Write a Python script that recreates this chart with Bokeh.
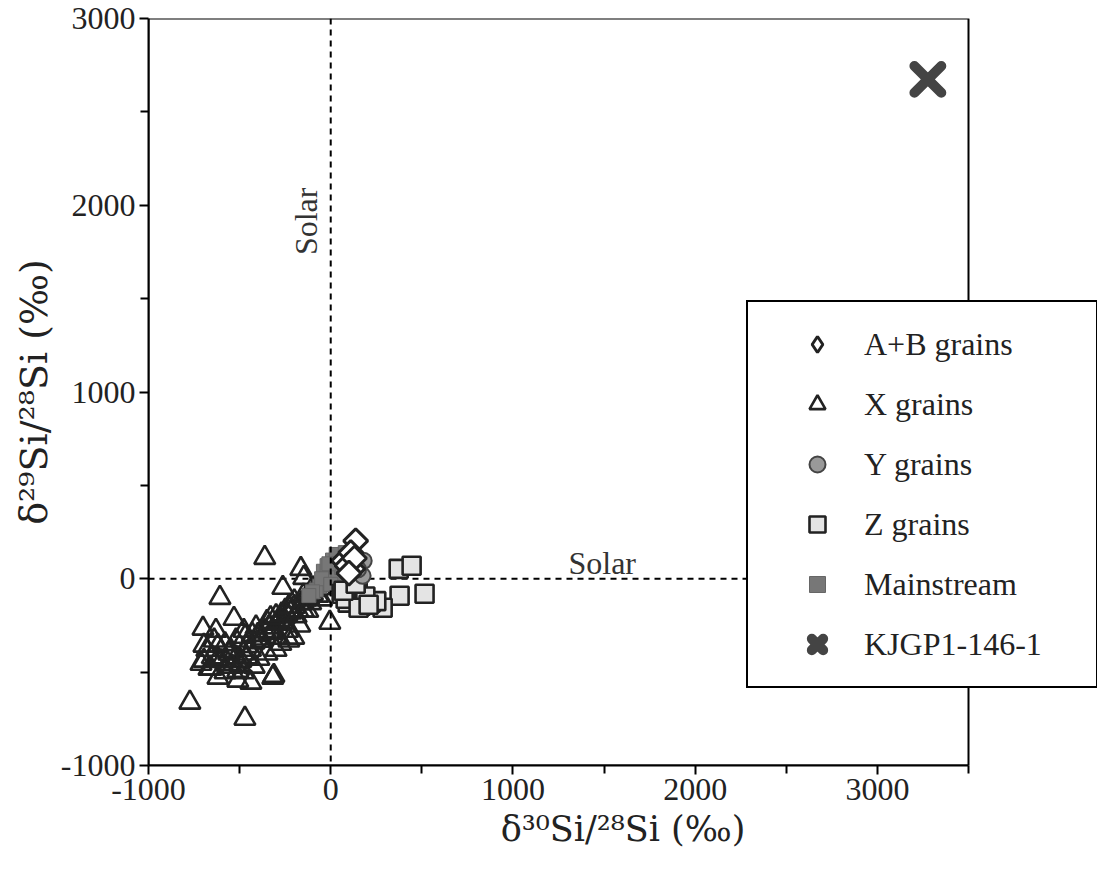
from bokeh.plotting import figure
from bokeh.models import (Span, Legend, LegendItem, Label, BoxAnnotation, FixedTicker,
                          CustomJSTickFormatter)
from bokeh.embed import file_html
from bokeh.resources import INLINE

# ---- data (delta30Si, delta29Si in permil) ----
x_grains_d30 = [-362, -608, -773, -471, -312, -164, -148, -263, -5, -531, -701, -630, -696, -712,
                -668, -619, -510, -438, -394, -274, -203, -236, -126, -619, -696, -619, -657, -384,
                -285, -477, -548, -493, -564, -510, -318,
                -520, -480, -460, -440, -420, -400, -380, -360, -340, -320, -300, -280, -260, -240,
                -220, -200, -180, -160, -140, -120, -100, -80, -60, -40, -20, -350, -300, -250, -200,
                -150, -100, -430, -460, -500, -540, -580, -560, -600, -650, -680, -640, -580, -520,
                -470, -410, -330, -270, -230, -190, -150, -110, -70, -50, -170, -230, -300, -350,
                -420, -480]
x_grains_d29 = [112, -102, -663, -749, -519, 53, 5, -48, -235, -214, -267, -278, -358, -455,
                -481, -529, -545, -556, -428, -348, -315, -278, -171, -358, -438, -428, -481, -332,
                -315, -278, -385, -438, -455, -492, -529,
                -420, -400, -360, -380, -340, -300, -320, -280, -260, -290, -240, -220, -230, -190,
                -180, -150, -170, -130, -110, -100, -80, -60, -50, -30, -20, -230, -200, -170, -120,
                -90, -50, -300, -420, -460, -470, -500, -400, -440, -420, -380, -330, -350, -330,
                -310, -260, -210, -190, -150, -200, -170, -130, -90, -110, -250, -330, -380, -400,
                -470, -500]

main_d30 = [-60, -40, -30, -20, -10, 0, 0, 10, 20, 30, 40, 50, 60, 70, -40, -20, 10, 30, 20, 40,
            -80, -50, 0, 60, 80, -10, -100, -120]
main_d29 = [-40, -20, 10, 30, -10, 20, 50, 40, 70, 60, 100, 80, 120, 110, 40, 70, 100, 130, 0, 30,
            -60, 0, -30, 60, 140, 80, -70, -90]

z_d30 = [373, 444, 378, 515, 285, 219, 164, 93, 148, 250, 120, 60, 190, 82, 153, 208, 71, 137]
z_d29 = [53, 70, -91, -80, -155, -128, -144, -128, -37, -120, -100, -80, -95, -107, -155, -139, -64, -27]

y_d30 = [181, 175, 150]
y_d29 = [96, 16, 50]

ab_d30 = [137, 121, 71, 110, 90, 130, 100]
ab_d29 = [203, 53, 96, 140, 70, 110, 30]

kjgp_d30 = [3277]
kjgp_d29 = [2674]

labels = ["A+B grains", "X grains", "Y grains", "Z grains", "Mainstream", "KJGP1-146-1"]
x_ticks = [-1000, 0, 1000, 2000, 3000]
x_minor = [-500, 500, 1500, 2500, 3500]
y_ticks = [-1000, 0, 1000, 2000, 3000]
y_minor = [-500, 500, 1500, 2500]
x_lim = (-1000, 3500)
y_lim = (-1000, 3000)

FONT = "Liberation Serif"
LABEL_FONT = "DejaVu Serif"

W, H = 1099, 870
LEFT, TOP, BOTTOM = 148, 18, 105
RIGHT = 2
frame_w = W - LEFT - RIGHT
x_end = x_lim[0] + (x_lim[1] - x_lim[0]) * frame_w / 820.0

p = figure(width=W, height=H, x_range=(x_lim[0], x_end), y_range=y_lim,
           output_backend="svg", toolbar_location=None,
           min_border_left=LEFT, min_border_right=RIGHT, min_border_top=TOP,
           min_border_bottom=BOTTOM)
p.background_fill_color = "white"
p.border_fill_color = "white"
p.xgrid.visible = False
p.ygrid.visible = False
p.outline_line_color = None

fmt = CustomJSTickFormatter(code="return tick.toFixed(0);")
for ax in (p.xaxis[0], p.yaxis[0]):
    ax.axis_line_width = 2
    ax.axis_line_color = "black"
    ax.major_tick_line_width = 2
    ax.minor_tick_line_width = 2
    ax.major_tick_in = 0
    ax.major_tick_out = 9
    ax.minor_tick_in = 0
    ax.minor_tick_out = 8
    ax.major_label_text_font = FONT
    ax.major_label_text_font_size = "32px"
    ax.major_label_text_color = "#222222"
    ax.axis_label_text_font = LABEL_FONT
    ax.axis_label_text_font_style = "normal"
    ax.axis_label_text_color = "#222222"
    ax.formatter = fmt

p.xaxis[0].ticker = FixedTicker(ticks=x_ticks, minor_ticks=x_minor)
p.yaxis[0].ticker = FixedTicker(ticks=y_ticks, minor_ticks=y_minor)
p.xaxis[0].bounds = x_lim
p.xaxis.axis_label = "δ³⁰Si/²⁸Si (‰)"
p.yaxis.axis_label = "δ²⁹Si/²⁸Si (‰)"
p.xaxis.axis_label_text_font_size = "35px"
p.yaxis.axis_label_text_font_size = "38px"
p.xaxis.axis_label_standoff = 6
p.yaxis.axis_label_standoff = 2
p.xaxis.major_label_standoff = 4
p.yaxis.major_label_standoff = 4

# frame of the plotting area
p.add_layout(BoxAnnotation(left=x_lim[0], right=x_lim[1], bottom=y_lim[0], top=y_lim[1],
                           fill_alpha=0, line_color="black", line_alpha=1, line_width=2))

# solar lines
p.add_layout(Span(location=0, dimension="height", line_color="black", line_width=2, line_dash="6 5"))
p.line(x=list(x_lim), y=[0, 0], line_color="black", line_width=2, line_dash="6 5")

p.add_layout(Label(x=-137, y=1914, text="Solar", angle=1.5708, text_align="center",
                   text_baseline="middle", text_font=FONT, text_font_size="32px", text_color="#333333"))
p.add_layout(Label(x=1490, y=86, text="Solar", text_align="center",
                   text_baseline="middle", text_font=FONT, text_font_size="32px", text_color="#333333"))

r_x = p.scatter(x_grains_d30, x_grains_d29, marker="triangle", size=21, fill_alpha=0,
                line_color="#222222", line_width=2.6)
r_main = p.scatter(main_d30, main_d29, marker="square", size=14, fill_color="#777777",
                   line_color="#666666", line_width=1)
r_z = p.scatter(z_d30, z_d29, marker="square", size=18, fill_color="#e4e4e4",
                line_color="#222222", line_width=2.6)
r_y = p.scatter(y_d30, y_d29, marker="circle", size=16, fill_color="#999999",
                line_color="#444444", line_width=2)
# A+B grains: diamond glyph (used for the legend key), covered by square diamonds
r_ab_leg = p.scatter(ab_d30, ab_d29, marker="diamond", size=14, fill_color="white",
                     line_color="#222222", line_width=3)
r_ab = p.scatter(ab_d30, ab_d29, marker="square", angle=0.7854, size=17, fill_color="white",
                 line_color="#222222", line_width=3)
r_k = p.scatter(kjgp_d30, kjgp_d29, marker="x", size=38, line_color="#444444", line_width=10,
                line_cap="round")

legend = Legend(items=[LegendItem(label=labels[0], renderers=[r_ab_leg]),
                       LegendItem(label=labels[1], renderers=[r_x]),
                       LegendItem(label=labels[2], renderers=[r_y]),
                       LegendItem(label=labels[3], renderers=[r_z]),
                       LegendItem(label=labels[4], renderers=[r_main]),
                       LegendItem(label=labels[5], renderers=[r_k])],
                location=(598, 77), orientation="vertical",
                glyph_width=94, glyph_height=40, label_standoff=0, label_width=210,
                label_height=40, spacing=20, padding=22, margin=0,
                label_text_font=FONT, label_text_font_size="32px", label_text_color="#222222",
                border_line_color="black", border_line_alpha=1, border_line_width=2,
                background_fill_color="white", background_fill_alpha=1)
p.add_layout(legend, "center")

open("out.html", "w").write(file_html(p, INLINE))
